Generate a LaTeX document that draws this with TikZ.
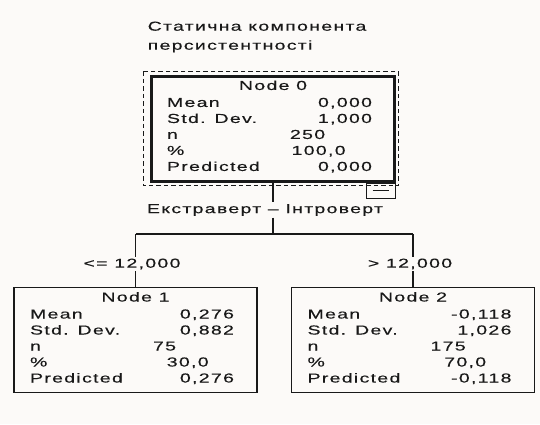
\documentclass[tikz,border=0pt]{standalone}
\usepackage{fontspec}
\setmainfont{Liberation Sans}[FakeStretch=1.5,LetterSpace=10,FakeBold=0.3]
\usetikzlibrary{positioning,calc}
\definecolor{paper}{RGB}{252,250,248}
\definecolor{ink}{RGB}{25,25,25}

\begin{document}
\begin{tikzpicture}[
    x=1pt,
    y=-1pt,
    every node/.style={
        font=\fontsize{13}{15}\selectfont,
        text=ink,
        inner sep=1.5pt
    },
    statbox/.style={
        draw=ink,
        line width=1.3pt,
        minimum width=243pt,
        minimum height=105pt
    },
    rootbox/.style={
        statbox,
        line width=2.4pt
    },
    dashbox/.style={
        draw=ink,
        line width=1pt,
        dash pattern=on 4.5pt off 3pt
    },
    branch/.style={
        draw=ink,
        line width=1.3pt
    }
    ]
    \fill[paper] (0,0) rectangle (540,424);
    \useasboundingbox (0,0) rectangle (540,424);

    \node[anchor=west,align=left,font=\fontsize{13}{19}\selectfont] (title) at (146,37)
        {Статична компонента\\персистентності};

    \node[rootbox] (N0) at (273,129) {};
    \node[statbox] (N1) at (135.5,340) {};
    \node[statbox] (N2) at (413,340) {};

    \draw[dashbox] ($(N0.north west)+(-7,-4)$) rectangle ($(N0.south east)+(3,3)$);
    \node[draw=ink,line width=1pt,minimum width=29pt,minimum height=15pt,
        inner sep=0pt,anchor=north east] (fold) at (N0.south east) {};
    \draw[ink,line width=1pt] ($(fold.center)+(-8,0)$) -- ($(fold.center)+(8,0)$);

    \foreach \nm/\ttl/\mean/\sd/\cnt/\pct/\pred in {
        N0/Node 0/0{,}000/1{,}000/250/100{,}0/0{,}000,
        N1/Node 1/0{,}276/0{,}882/75/30{,}0/0{,}276,
        N2/Node 2/-0{,}118/1{,}026/175/70{,}0/-0{,}118}{
        \node[anchor=mid] (\nm-title) at ($(\nm.north)+(0,12)$) {\ttl};
        \node[anchor=mid west] (\nm-meanl) at ($(\nm.north west)+(15,29)$) {Mean};
        \node[anchor=mid west] (\nm-sdl) at ($(\nm.north west)+(15,45)$) {Std. Dev.};
        \node[anchor=mid west] (\nm-nl) at ($(\nm.north west)+(15,61)$) {n};
        \node[anchor=mid west] (\nm-pctl) at ($(\nm.north west)+(15,77)$) {\%};
        \node[anchor=mid west] (\nm-predl) at ($(\nm.north west)+(15,93)$) {Predicted};
        \node[anchor=mid east] (\nm-mean) at ($(\nm.north east)+(-22,29)$) {\mean};
        \node[anchor=mid east] (\nm-sd) at ($(\nm.north east)+(-22,45)$) {\sd};
        \node[anchor=mid west] (\nm-n) at ($(\nm.north west)+(138,61)$) {\cnt};
        \node[anchor=mid east] (\nm-pct) at ($(\nm.north west)+(197,77)$) {\pct};
        \node[anchor=mid east] (\nm-pred) at ($(\nm.north east)+(-22,93)$) {\pred};
    }

    % split and branch labels
    \node (split) at (265,210) {Екстраверт – Інтроверт};
    \node (le) at (132,264) {<= 12,000};
    \node (gt) at (410,264) {> 12,000};
    \coordinate (bar) at (273,234);

    \draw[branch] (N0.south) -- (N0.south |- split.north);
    \draw[branch] (N0.south |- split.south) -- (bar);
    \draw[branch] (N1.north |- bar) -- (N2.north |- bar);
    \draw[branch] (N1.north |- bar) -- (N1.north |- le.north);
    \draw[branch] (N1.north |- le.south) -- (N1.north);
    \draw[branch] (N2.north |- bar) -- (N2.north |- gt.north);
    \draw[branch] (N2.north |- gt.south) -- (N2.north);
\end{tikzpicture}
\end{document}
